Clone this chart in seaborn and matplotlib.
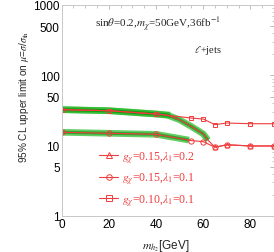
import numpy as np
import pandas as pd
import seaborn as sns
from matplotlib import pyplot as plt
from matplotlib.lines import Line2D
from matplotlib.ticker import FixedLocator, NullFormatter

sns.set_style("white")
plt.rcParams["font.family"] = ["Liberation Sans", "DejaVu Sans"]
plt.rcParams["mathtext.fontset"] = "stix"

# scan points (m_h2 in GeV)
mh2 = [0, 20, 40, 55, 60, 65, 70, 80, 90]
mu_sq = [32.5, 31.4, 28.2, 24.7, 23.9, 19.9, 21.0, 20.5, 20.5]   # g=0.10, l1=0.1
mu_ci = [15.5, 15.0, 14.5, 11.8, 11.4, 9.5, 10.3, 9.9, 9.9]      # g=0.15, l1=0.1
mh2_tr = [0, 20, 40, 45, 50, 55, 60, 62, 65, 70, 80, 90]
mu_tr = [32.5, 31.4, 28.2, 27.0, 23.3, 18.7, 14.7, 12.0, 9.5, 10.3, 9.9, 9.9]  # g=0.15, l1=0.2

# green bands
band_sq_x = [0, 20, 40, 46]
band_sq_y = [32.5, 31.4, 28.2, 27.2]
band_tr_x = [0, 20, 40, 45, 50, 55, 60, 62]
band_tr_y = [32.5, 31.4, 28.2, 27.0, 23.3, 18.7, 14.7, 12.0]
band_ci_x = [0, 20, 40, 54]
band_ci_y = [15.5, 15.0, 14.5, 12.0]

labels = [r"$g_\chi$=0.15,$\lambda_1$=0.2",
          r"$g_\chi$=0.15,$\lambda_1$=0.1",
          r"$g_\chi$=0.10,$\lambda_1$=0.1"]

red = "#f03c3c"
green = "#22b822"

fig = plt.figure(figsize=(2.74, 2.53), dpi=100)
ax = fig.add_axes([0.2252, 0.1423, 0.7748, 0.834])

for bx, by in [(band_sq_x, band_sq_y), (band_tr_x, band_tr_y), (band_ci_x, band_ci_y)]:
    sns.lineplot(x=bx, y=by, ax=ax, color=green, lw=4.8, alpha=0.7,
                 solid_capstyle="butt", estimator=None, sort=False)
    sns.lineplot(x=bx, y=by, ax=ax, color="#0a8a0a", lw=2.2, alpha=0.6,
                 solid_capstyle="butt", estimator=None, sort=False)

sns.lineplot(x=mh2_tr, y=mu_tr, ax=ax, color=red, lw=0.8, estimator=None, sort=False)
sns.lineplot(x=mh2, y=mu_sq, ax=ax, color=red, lw=0.8, marker="s", ms=3.5,
             mfc="none", mec=red, mew=0.7, estimator=None, sort=False)
sns.lineplot(x=mh2, y=mu_ci, ax=ax, color=red, lw=0.8, marker="o", ms=3.8,
             mfc="none", mec=red, mew=0.7, estimator=None, sort=False)
ax.plot(mh2_tr[8:], mu_tr[8:], ls="none", marker="^", ms=3.5, mfc="none", mec=red, mew=0.6)

ax.set_yscale("log")
ax.set_xlim(0, 90)
ax.set_ylim(1, 1000)
ax.set_xticks([0, 20, 40, 60, 80])
ax.xaxis.set_minor_locator(FixedLocator(np.arange(0, 91, 5)))
ax.set_yticks([1, 5, 10, 50, 100, 500, 1000])
ax.set_yticklabels(["1", "5", "10", "50", "100", "500", "1000"])
minors = [m * 10 ** e for e in range(0, 3) for m in range(2, 10) if m != 5]
ax.yaxis.set_minor_locator(FixedLocator(minors))
ax.yaxis.set_minor_formatter(NullFormatter())
ax.tick_params(axis="both", which="both", direction="in", colors="#b0b0b0",
               labelcolor="black", labelsize=8.5, pad=1.5)
ax.tick_params(which="major", length=3, width=0.6)
ax.tick_params(which="minor", length=1.8, width=0.5)
ax.tick_params(top=True, right=True, which="both")
for s in ax.spines.values():
    s.set_color("#c8c8c8")
    s.set_linewidth(0.7)

ax.set_xlabel(r"$m_{h_2}$[GeV]", fontsize=8.5)
ax.xaxis.set_label_coords(0.49, -0.098)
ax.set_ylabel(r"95% CL upper limit on $\mu$=$\sigma$/$\sigma_{\rm th}$", fontsize=7.2)
ax.yaxis.set_label_coords(-0.146, 0.57)

ax.text(0.155, 0.9, r"sin$\theta$=0.2,$m_\chi$=50GeV,36fb$^{-1}$", transform=ax.transAxes,
        fontsize=8, family="Liberation Serif")
ax.text(0.625, 0.775, r"$\ell$+jets", transform=ax.transAxes, fontsize=7.5,
        family="Liberation Serif")

handles = [Line2D([], [], color=red, lw=0.8, marker=m, ms=4, mfc="none", mec=red, mew=0.7)
           for m in ["^", "o", "s"]]
leg = ax.legend(handles, labels, loc="upper left", bbox_to_anchor=(0.15, 0.345),
                frameon=False, labelcolor=red, handlelength=1.6,
                handletextpad=0.3, labelspacing=0.45, borderpad=0,
                prop={"family": "Liberation Serif", "size": 8.5})

fig.savefig("out.png", dpi=100)
